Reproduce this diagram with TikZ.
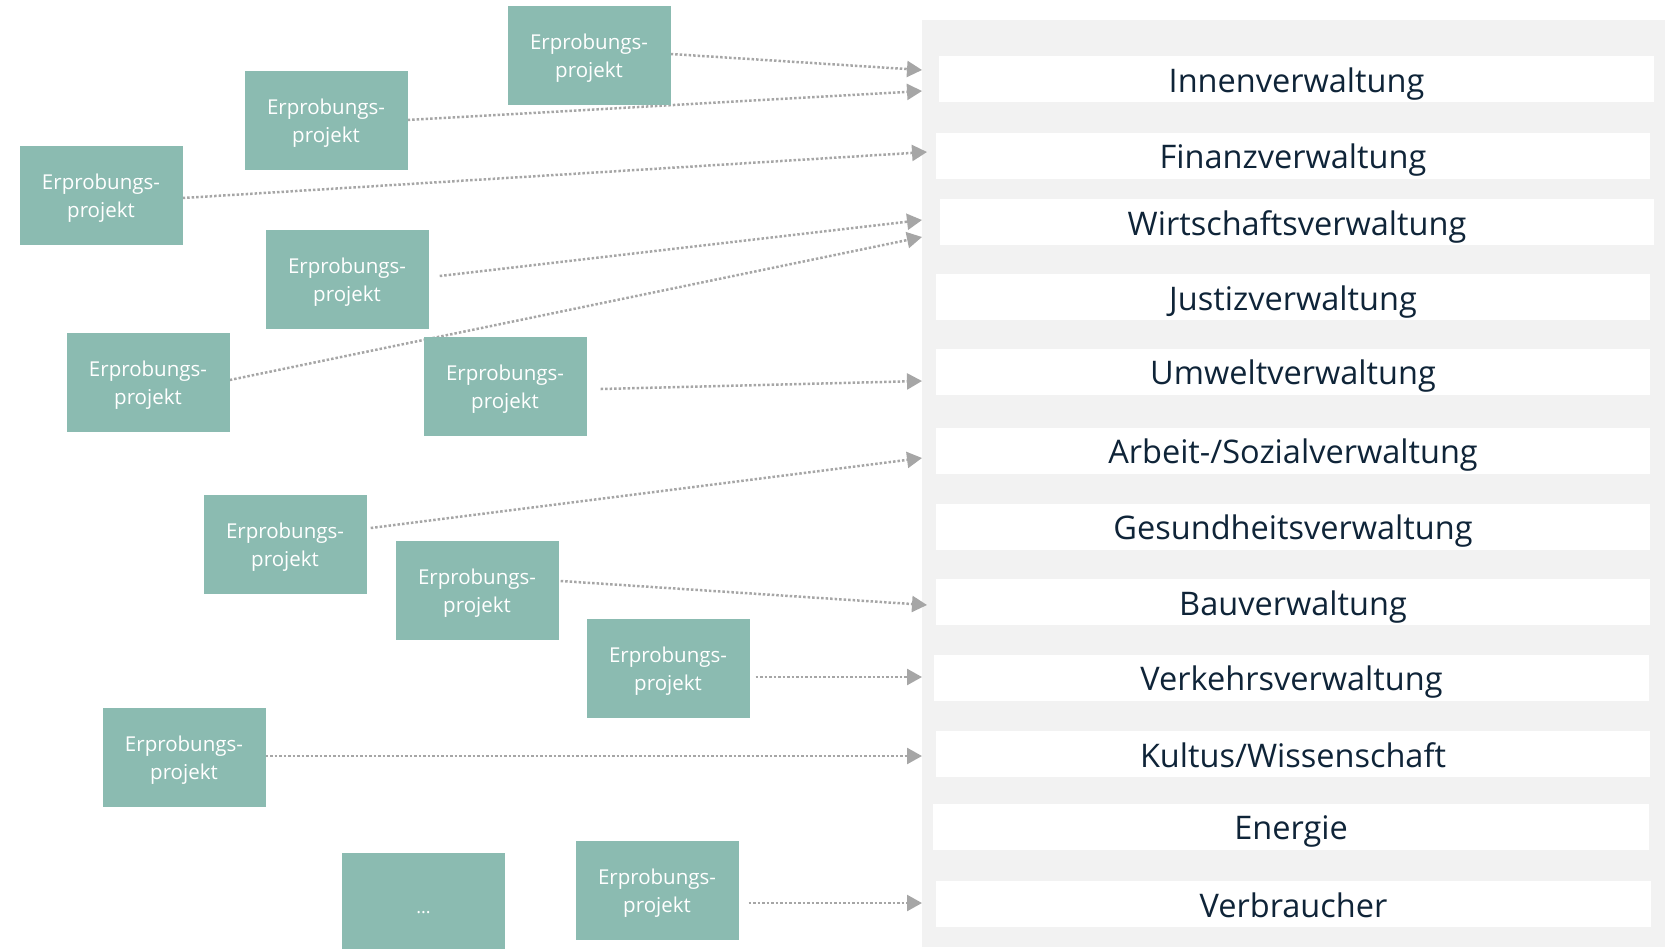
\documentclass[tikz,border=0pt]{standalone}
\usepackage{fontspec}
\setmainfont{Open Sans}
\usetikzlibrary{arrows.meta}

\definecolor{panelgray}{HTML}{F2F2F2}
\definecolor{projteal}{HTML}{8BBBB1}
\definecolor{labelnavy}{HTML}{0F2438}
\definecolor{linkgray}{HTML}{A6A6A6}

\pgfdeclarelayer{back}
\pgfdeclarelayer{links}
\pgfsetlayers{back,links,main}

\newcommand{\projtext}{\rule{0pt}{22pt}Erprobungs-\\projekt}

\tikzset{
  projbox/.style={fill=projteal, text=white, align=center, inner sep=0pt,
    minimum width=163pt, minimum height=99pt,
    font=\fontsize{20.5pt}{28pt}\selectfont},
  areabar/.style={fill=white, text=labelnavy, inner sep=0pt,
    minimum height=46pt, text height=28.5pt, text depth=2.5pt,
    font=\fontsize{32.5pt}{38pt}\selectfont},
  link/.style={draw=linkgray, line width=2.5pt, dash pattern=on 2.5pt off 2pt,
    -{Triangle[length=15pt,width=16pt,fill=linkgray]}},
}

\begin{document}
\begin{tikzpicture}[x=1pt, y=-1pt]
\useasboundingbox (0,0) rectangle (1675,948);

% administrative areas on a light panel
\begin{pgfonlayer}{back}
  \fill[panelgray] (922,20) rectangle (1665,947);
  \node[areabar, minimum width=715pt] (a1)  at (1296.5,79)  {Innenverwaltung};
  \node[areabar, minimum width=714pt] (a2)  at (1293,155.5) {Finanzverwaltung};
  \node[areabar, minimum width=714pt] (a3)  at (1297,222)   {Wirtschaftsverwaltung};
  \node[areabar, minimum width=714pt] (a4)  at (1293,297)   {Justizverwaltung};
  \node[areabar, minimum width=714pt] (a5)  at (1293,371.7) {Umweltverwaltung};
  \node[areabar, minimum width=714pt] (a6)  at (1293,450.8) {Arbeit-/Sozialverwaltung};
  \node[areabar, minimum width=714pt] (a7)  at (1293,526.6) {Gesundheitsverwaltung};
  \node[areabar, minimum width=714pt] (a8)  at (1293,602)   {Bauverwaltung};
  \node[areabar, minimum width=715pt] (a9)  at (1291.5,677.8) {Verkehrsverwaltung};
  \node[areabar, minimum width=714pt] (a10) at (1293,754)   {Kultus/Wissenschaft};
  \node[areabar, minimum width=716pt] (a11) at (1291,826.5) {Energie};
  \node[areabar, minimum width=715pt] (a12) at (1293.5,904) {Verbraucher};
\end{pgfonlayer}

% pilot projects
\node[projbox] (b1)  at (589,55)  {\projtext};
\node[projbox] (b2)  at (326,120) {\projtext};
\node[projbox] (b3)  at (101,195) {\projtext};
\node[projbox] (b4)  at (347,279) {\projtext};
\node[projbox] (b5)  at (148,382) {\projtext};
\node[projbox] (b6)  at (505,386) {\projtext};
\node[projbox] (b7)  at (285,544) {\projtext};
\node[projbox] (b8)  at (477,590) {\projtext};
\node[projbox] (b9)  at (668,668) {\projtext};
\node[projbox] (b10) at (184,757) {\projtext};
\node[projbox, font=\fontsize{18pt}{20pt}\selectfont] (b11) at (423.5,902.5)
  {\raisebox{-11pt}[0pt][0pt]{...}};
\node[projbox] (b12) at (657,890) {\projtext};

% arrow ends at the panel edge
\coordinate (e1)  at (922,70);
\coordinate (e2)  at (922,91);
\coordinate (e3)  at (927,152);
\coordinate (e4)  at (922,220);
\coordinate (e5)  at (922,237);
\coordinate (e6)  at (922,381);
\coordinate (e7)  at (922,458);
\coordinate (e8)  at (927,605);
\coordinate (e9)  at (922,677);
\coordinate (e10) at (922,756);
\coordinate (e12) at (922,903);

% yshift is measured upwards on the page
\begin{pgfonlayer}{links}
  \draw[link] ([yshift=1pt]b1.east) -- (e1);
  \draw[link] (b2.east) -- (e2);
  \draw[link] ([yshift=-3pt]b3.east) -- (e3);
  \draw[link] ([xshift=11pt,yshift=3pt]b4.east) -- (e4);
  \draw[link] ([yshift=2pt]b5.east) -- (e5);
  \draw[link] ([xshift=14pt,yshift=-3pt]b6.east) -- (e6);
  \draw[link] ([xshift=4pt,yshift=16pt]b7.east) -- (e7);
  \draw[link] ([xshift=2pt,yshift=9pt]b8.east) -- (e8);
  \draw[link] ([xshift=6pt,yshift=-9pt]b9.east) -- (e9);
  \draw[link] ([yshift=1pt]b10.east) -- (e10);
  \draw[link] ([xshift=10pt,yshift=-13pt]b12.east) -- (e12);
\end{pgfonlayer}
\end{tikzpicture}
\end{document}
